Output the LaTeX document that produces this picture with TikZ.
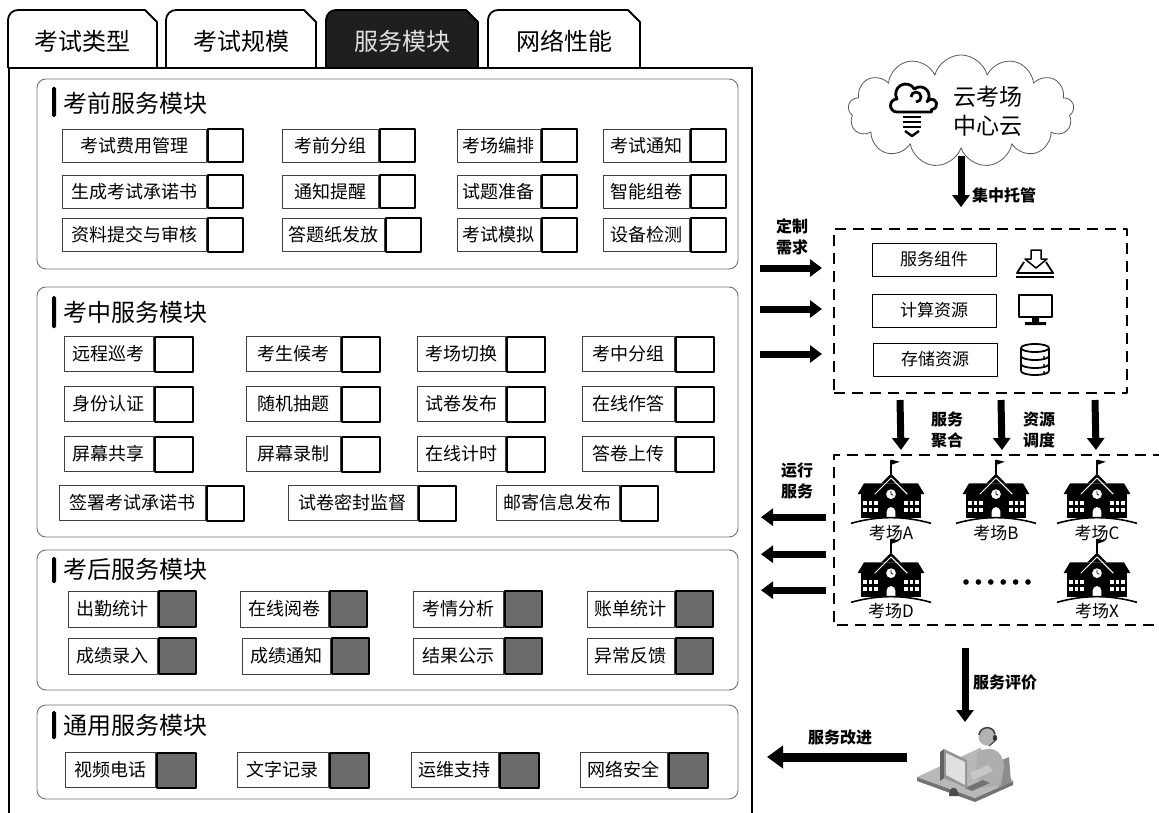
\documentclass[tikz,border=0pt]{standalone}
\usepackage{fontspec}
\setmainfont{Noto Sans CJK SC}
\usetikzlibrary{arrows.meta,shapes.symbols}

% one service entry: label box with its square on the right
\newcommand\svc[5]{%
  \node[lbl,minimum width=#4pt] (#1) at (#2,#3) {#5};
  \node[chk,anchor=west] (#1s) at (#1.east) {};}

\begin{document}
\begin{tikzpicture}[x=1pt,y=-1pt,line join=round,
  lbl/.style={draw=black!75,line width=.8pt,fill=white,anchor=west,inner sep=0pt,minimum height=\bh pt,font=\fontsize{18}{18}\selectfont},
  chk/.style={draw,line width=2pt,fill=\sqc,inner sep=0pt,minimum width=\bw pt,minimum height=\bh pt},
  panel/.style={draw=black!55,line width=.9pt,rounded corners=9pt},
  head/.style={anchor=west,inner sep=0pt,font=\fontsize{24}{24}\selectfont},
  tab/.style={draw,line width=1.8pt},
  res/.style={draw,line width=.9pt,minimum width=124pt,minimum height=33pt,inner sep=0pt,font=\fontsize{17}{17}\selectfont},
  note/.style={align=center,inner sep=0pt,font=\bfseries\fontsize{16}{21}\selectfont},
  site/.style={inner sep=0pt,font=\fontsize{17}{17}\selectfont},
  fat/.style={line width=7pt,-{Triangle[length=12pt,width=17pt]}},
  dbox/.style={line width=2pt,dash pattern=on 11pt off 7pt},
  school/.pic={
    \begin{scope}[yscale=-1,scale=1.08]
    \fill (-28,1) rectangle (28,24);
    \fill (-31,23) -- (31,23) -- (25,33) -- (-25,33) -- cycle;
    \fill (-9,33) -- (0,42) -- (9,33) -- cycle;
    \draw[white,line width=1pt] (-15,23) -- (0,38) -- (15,23);
    \fill[white] (0,23) circle (4.5);
    \draw[line width=.8pt] (0,23) -- (0,26) (0,23) -- (2,22);
    \foreach \u in {-24,-19,-14,14,19,24} \foreach \v in {8,15}
      \fill[white] (\u-1.8,\v-1.8) rectangle ++(3.6,3.6);
    \fill[white] (-4,1) -- (-4,7) arc[start angle=180,end angle=0,radius=4] -- (4,1) -- cycle;
    \draw[line width=1.2pt] (0,42) -- (0,55);
    \fill (0,55) -- (8,53) -- (0,50) -- cycle;
    \draw[line width=1.6pt] (-37,-4) .. controls (-12,3) and (12,3) .. (37,-4);
    \end{scope}}]

\useasboundingbox (0,0) rectangle (1159,813);
\fill[white] (0,0) rectangle (1159,813);

% tabs and outer frame
\draw[line width=2.5pt] (9,68) -- (9,813) (752,68) -- (752,813);
\foreach \xa/\xb/\name/\fc/\tc [count=\i] in {8/157/考试类型/white/black,166/316/考试规模/white/black,
    326/478/服务模块/black!88/black!12,488/640/网络性能/white/black}{
  \filldraw[tab,fill=\fc] (\xa,68) -- (\xa,20) arc[start angle=180,end angle=270,radius=10] -- (\xb-12,10) -- (\xb,22) -- (\xb,68);
  \node[text=\tc,font=\fontsize{24}{24}\selectfont] (tab\i) at ({(\xa+\xb)/2},41) {\name};
}
\draw[line width=1.6pt] (8,68) -- (753,68);

% before the exam
\def\bh{33}\def\bw{35}\def\sqc{white}
\draw[panel] (37,79) rectangle (738,269);
\fill[rounded corners=1.5pt] (52,87) rectangle (56,117);
\node[head] (pre) at (63,103) {考前服务模块};
\svc{p11}{62}{146}{144}{考试费用管理}
\svc{p12}{282}{146}{96}{考前分组}
\svc{p13}{457}{146}{83}{考场编排}
\svc{p14}{603}{146}{86}{考试通知}
\svc{p21}{62}{192}{144}{生成考试承诺书}
\svc{p22}{282}{192}{96}{通知提醒}
\svc{p23}{457}{192}{83}{试题准备}
\svc{p24}{603}{192}{86}{智能组卷}
\svc{p31}{62}{235}{144}{资料提交与审核}
\svc{p32}{282}{235}{102}{答题纸发放}
\svc{p33}{457}{235}{83}{考试模拟}
\svc{p34}{603}{235}{86}{设备检测}

% during the exam
\def\bh{35}\def\bw{38}
\draw[panel] (37,287) rectangle (738,537);
\fill[rounded corners=1.5pt] (52,296) rectangle (56,328);
\node[head] (mid) at (63,312) {考中服务模块};
\svc{m11}{64}{354}{89}{远程巡考}
\svc{m12}{246}{354}{94}{考生候考}
\svc{m13}{417}{354}{88}{考场切换}
\svc{m14}{582}{354}{92}{考中分组}
\svc{m21}{64}{404}{89}{身份认证}
\svc{m22}{246}{404}{94}{随机抽题}
\svc{m23}{417}{404}{88}{试卷发布}
\svc{m24}{582}{404}{92}{在线作答}
\svc{m31}{64}{454}{89}{屏幕共享}
\svc{m32}{246}{454}{94}{屏幕录制}
\svc{m33}{417}{454}{88}{在线计时}
\svc{m34}{582}{454}{92}{答卷上传}
\def\bw{37}
\svc{m41}{59}{503}{146}{签署考试承诺书}
\svc{m42}{288}{503}{129}{试卷密封监督}
\svc{m43}{496}{503}{123}{邮寄信息发布}

% after the exam
\def\bh{36}\def\bw{37}\def\sqc{black!58}
\draw[panel] (37,550) rectangle (738,690);
\fill[rounded corners=1.5pt] (52,557) rectangle (56,583);
\node[head] (post) at (63,569) {考后服务模块};
\svc{q11}{68}{609}{89}{出勤统计}
\svc{q12}{240}{609}{88}{在线阅卷}
\svc{q13}{413}{609}{90}{考情分析}
\svc{q14}{587}{609}{87}{账单统计}
\svc{q21}{68}{656}{89}{成绩录入}
\svc{q22}{242}{656}{88}{成绩通知}
\svc{q23}{413}{656}{90}{结果公示}
\svc{q24}{587}{656}{87}{异常反馈}

% common
\def\bh{35}\def\bw{39}
\draw[panel] (37,705) rectangle (738,799);
\fill[rounded corners=1.5pt] (52,711) rectangle (56,739);
\node[head] (gen) at (63,725) {通用服务模块};
\svc{g1}{65}{770}{90}{视频电话}
\svc{g2}{237}{770}{91}{文字记录}
\svc{g3}{411}{770}{87}{运维支持}
\svc{g4}{580}{770}{87}{网络安全}

% central cloud
\node[cloud,cloud puffs=13,aspect=2,draw=black!65,line width=.8pt,minimum width=226pt,minimum height=112pt,inner sep=0pt] (cloud) at (961,111) {};
\node[align=left,inner sep=0pt,font=\fontsize{23}{29}\selectfont] (hub) at (988,111) {云考场\\中心云};
\begin{scope}[shift={(912,112)},yscale=-1,line width=2.8pt]
  \draw (19.5,0) -- (-15,0) arc[start angle=270,end angle=90,radius=6.5]
    arc[start angle=210,end angle=30,radius=10] arc[start angle=130,end angle=-40,radius=9]
    arc[start angle=150,end angle=-90,radius=5.2] -- cycle;
  \draw (4,10) arc[start angle=-90,end angle=180,radius=5];
  \foreach \yy in {-5,-10,-15} \draw (-9,\yy) -- (9,\yy);
  \draw[line width=2.4pt] (-7,-19) -- (0,-24) -- (7,-19);
\end{scope}

% resource pool
\node[dbox,draw,minimum width=293pt,minimum height=164pt,inner sep=0pt] (pool) at (980.5,311) {};
\draw[fat] ([yshift=-7pt]cloud.south) -- ++(0,51);
\node[note] (host) at (1004,195) {集中托管};
\node[res] (comp) at (934,259.5) {服务组件};
\node[res] (cpu) at (934,310.5) {计算资源};
\node[res] (disk) at (935,359.5) {存储资源};
\draw[line width=1.8pt] (1024,262) -- (1017,273) -- (1053,273) -- (1046,262);
\draw[line width=1.2pt] (1016,277) -- (1054,277);
\draw[line width=1.5pt,fill=white] (1031,250) -- (1041,250) -- (1041,259) -- (1047,259) -- (1036,268) -- (1025,259) -- (1031,259) -- cycle;
\draw[line width=2pt] (1019,295) rectangle (1052,317);
\fill (1032,317) rectangle (1039,322) (1025,322) rectangle (1046,325);
\begin{scope}[line width=1.8pt]
  \draw (1035,348) ellipse (14 and 4);
  \draw (1021,348) -- (1021,371) (1049,348) -- (1049,371);
  \foreach \yy in {356,364,371} \draw (1021,\yy) arc[start angle=180,end angle=0,x radius=14,y radius=4];
  \foreach \yy in {357,365,372} \fill (1044,\yy) circle (1.2);
\end{scope}
\foreach \dy in {43,2,-43}
  \draw[fat] ([xshift=-73pt,yshift=\dy pt]pool.west) -- ([xshift=-11pt,yshift=\dy pt]pool.west);
\node[note] (need) at (792,237) {定制\\需求};

% exam sites
\node[minimum width=330pt,minimum height=170pt,anchor=north west,inner sep=0pt] (sites) at (834,455) {};
\draw[dbox] (sites.north east) -- (sites.north west) -- (sites.south west) -- (sites.south east);
\foreach \dx in {67,168,262}
  \draw[fat] ([xshift=\dx pt,yshift=-6pt]pool.south west) -- ([xshift=\dx pt,yshift=5pt]sites.north west);
\node[note] (merge) at (947,430) {服务\\聚合};
\node[note] (sched) at (1039,430) {资源\\调度};
\pic at (891,519) {school};
\pic at (996,519) {school};
\pic at (1097,519) {school};
\pic at (891,598) {school};
\pic at (1097,598) {school};
\node[site] (sA) at (891,533) {考场A};
\node[site] (sB) at (996,533) {考场B};
\node[site] (sC) at (1097,533) {考场C};
\node[site] (sD) at (891,611) {考场D};
\node[site] (sX) at (1097,611) {考场X};
\foreach \k in {0,...,5} \fill (966+12.4*\k,582) circle (2.8);
\foreach \dy in {23,-14,-50}
  \draw[fat] ([xshift=-8pt,yshift=\dy pt]sites.west) -- ([xshift=-73pt,yshift=\dy pt]sites.west);
\node[note] (run) at (797,481) {运行\\服务};

% service desk
\coordinate (desk) at (965,766);
\fill[black!55] (917,777) -- (975,798) -- (1013,781) -- (1013,785) -- (975,802) -- (917,781) -- cycle;
\fill[black!28] (917,777) -- (980,748) -- (1013,781) -- (975,798) -- cycle;
\fill[black!45] (997,762) -- (1009,757) -- (1011,782) -- (999,787) -- cycle;
\fill[black!32] (977,753) .. controls (990,744) and (1003,750) .. (1004,766) -- (1001,785) -- (981,788) -- (976,772) -- cycle;
\fill[black!22] (970,773) -- (988,765) -- (993,771) -- (973,780) -- cycle;
\fill[black!30] (987,737) circle (8.5);
\draw[black!75,line width=1.6pt] (979,735) .. controls (980,726) and (993,725) .. (995,734);
\fill[black!80] (995,738) ellipse (2.2 and 3.2);
\draw[black!75,line width=1pt] (995,741) -- (989,746);
\fill[black!55] (965,788) -- (983,780) -- (990,783) -- (972,791) -- cycle;
\fill[black!62] (940,752) -- (944,749) -- (944,778) -- (940,781) -- cycle;
\fill[black!42] (944,749) -- (967,760) -- (967,788) -- (944,778) -- cycle;
\fill[black!12] (946,753) -- (965,762) -- (965,785) -- (946,775) -- cycle;
\fill[black!70] (949,796) .. controls (949,786) and (957,784) .. (959,796) -- cycle;
\draw[fat] (desk) ++(0,-118) -- ++(0,74);
\draw[line width=9pt,-{Triangle[length=16pt,width=22pt]}] (desk) ++(-58,-9) -- ++(-140,0);
\node[note] (rate) at (1005,682) {服务评价};
\node[note] (improve) at (840,737) {服务改进};
\end{tikzpicture}
\end{document}
